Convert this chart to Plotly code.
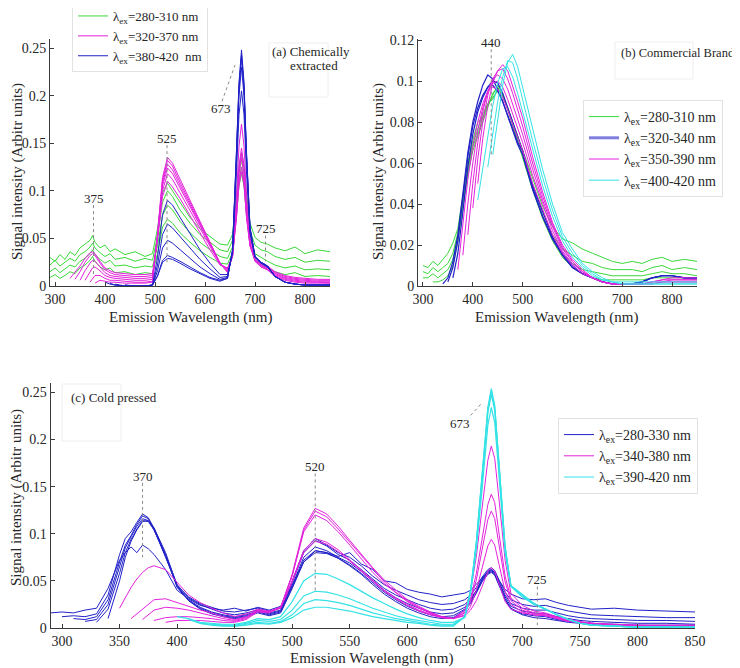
import plotly.graph_objects as go

N = None

# ---------------- Panel (a): chemically extracted ----------------
wl_a = [290, 300, 310, 320, 330, 340, 350, 360, 370, 375,
        380, 390, 400, 410, 420, 440, 460, 480, 495,
        505, 515, 525, 535, 550, 570, 590, 610, 630,
        645, 655, 663, 668, 673, 678, 683, 690, 700,
        712, 725, 740, 760, 780, 800, 825, 850]

a_green = [
    [0.030, 0.026, 0.033, 0.028, 0.036, 0.032, 0.040, 0.044, 0.048, 0.053,
     0.046, 0.040, 0.043, 0.036, 0.039, 0.033, 0.036, 0.031, 0.034,
     0.060, 0.098, 0.108, 0.100, 0.088, 0.072, 0.060, 0.052, 0.044,
     0.043, 0.054, 0.096, 0.126, 0.140, 0.127, 0.097, 0.066, 0.051,
     0.046, 0.044, 0.040, 0.037, 0.041, 0.034, 0.038, 0.036],
    [0.022, 0.027, 0.021, 0.025, 0.029, 0.026, 0.033, 0.036, 0.041, 0.045,
     0.040, 0.035, 0.031, 0.034, 0.028, 0.030, 0.026, 0.029, 0.027,
     0.052, 0.088, 0.100, 0.094, 0.080, 0.066, 0.054, 0.046, 0.038,
     0.036, 0.048, 0.089, 0.119, 0.132, 0.119, 0.089, 0.058, 0.043,
     0.038, 0.036, 0.031, 0.028, 0.030, 0.025, 0.027, 0.026],
    [0.015, 0.019, 0.014, 0.018, 0.022, 0.020, 0.026, 0.029, 0.034, 0.038,
     0.033, 0.028, 0.024, 0.027, 0.021, 0.022, 0.019, 0.021, 0.020,
     0.042, 0.074, 0.085, 0.080, 0.068, 0.056, 0.046, 0.038, 0.031,
     0.029, 0.041, 0.082, 0.112, 0.125, 0.112, 0.082, 0.050, 0.034,
     0.030, 0.026, 0.022, 0.019, 0.021, 0.017, 0.018, 0.017],
    [0.009, 0.012, 0.008, 0.011, 0.015, 0.013, 0.019, 0.022, 0.027, 0.031,
     0.026, 0.020, 0.017, 0.019, 0.014, 0.015, 0.012, 0.014, 0.013,
     0.034, 0.062, 0.070, 0.066, 0.056, 0.046, 0.037, 0.030, 0.024,
     0.023, 0.035, 0.075, 0.105, 0.118, 0.105, 0.075, 0.043, 0.027,
     0.022, 0.019, 0.015, 0.012, 0.014, 0.010, 0.011, 0.010],
]

a_magenta = [
    [N, N, N, N, 0.008, 0.014, 0.021, 0.029, 0.035, 0.036,
     0.034, 0.026, 0.019, 0.016, 0.014, 0.013, 0.012, 0.012, 0.013,
     0.048, 0.094, 0.110, 0.104, 0.092, 0.074, 0.056, 0.038, 0.022,
     0.019, 0.032, 0.072, 0.106, 0.120, 0.106, 0.072, 0.042, 0.028,
     0.024, 0.021, 0.015, 0.011, 0.009, 0.008, 0.007, 0.007],
    [N, N, N, N, N, 0.007, 0.015, 0.025, 0.032, 0.034,
     0.032, 0.024, 0.017, 0.014, 0.012, 0.011, 0.010, 0.010, 0.011,
     0.050, 0.100, 0.118, 0.112, 0.098, 0.079, 0.060, 0.041, 0.023,
     0.018, 0.031, 0.073, 0.109, 0.125, 0.109, 0.073, 0.042, 0.027,
     0.023, 0.020, 0.014, 0.010, 0.008, 0.007, 0.006, 0.006],
    [N, N, N, N, N, N, 0.006, 0.016, 0.024, 0.027,
     0.026, 0.020, 0.014, 0.011, 0.010, 0.009, 0.008, 0.008, 0.009,
     0.052, 0.105, 0.124, 0.118, 0.103, 0.083, 0.063, 0.043, 0.024,
     0.017, 0.031, 0.078, 0.118, 0.135, 0.118, 0.078, 0.044, 0.027,
     0.022, 0.019, 0.013, 0.009, 0.007, 0.006, 0.005, 0.005],
    [N, N, N, N, N, N, N, 0.006, 0.015, 0.019,
     0.020, 0.016, 0.011, 0.009, 0.008, 0.007, 0.006, 0.006, 0.007,
     0.053, 0.108, 0.128, 0.122, 0.106, 0.086, 0.065, 0.044, 0.024,
     0.016, 0.031, 0.080, 0.122, 0.140, 0.122, 0.080, 0.045, 0.026,
     0.021, 0.018, 0.012, 0.008, 0.006, 0.005, 0.004, 0.004],
    [N, N, N, N, N, N, N, N, 0.004, 0.008,
     0.011, 0.011, 0.008, 0.006, 0.006, 0.005, 0.004, 0.004, 0.005,
     0.054, 0.111, 0.132, 0.126, 0.109, 0.088, 0.067, 0.045, 0.024,
     0.015, 0.031, 0.082, 0.126, 0.145, 0.126, 0.082, 0.045, 0.026,
     0.020, 0.017, 0.011, 0.007, 0.005, 0.004, 0.004, 0.003],
    [N, N, N, N, N, N, N, N, N, N,
     0.003, 0.006, 0.005, 0.004, 0.004, 0.003, 0.003, 0.003, 0.004,
     0.055, 0.114, 0.135, 0.129, 0.112, 0.090, 0.068, 0.046, 0.024,
     0.014, 0.033, 0.095, 0.147, 0.170, 0.147, 0.095, 0.050, 0.027,
     0.020, 0.017, 0.010, 0.006, 0.004, 0.003, 0.003, 0.003],
]

a_blue = [
    [N, N, N, N, N, N, N, N, N, N,
     N, N, 0.004, 0.002, 0.001, 0.000, 0.000, 0.000, 0.001,
     0.030, 0.075, 0.090, 0.085, 0.072, 0.055, 0.038, 0.024, 0.012,
     0.012, 0.034, 0.120, 0.180, 0.205, 0.180, 0.120, 0.055, 0.030,
     0.024, 0.020, 0.010, 0.004, 0.002, 0.001, 0.001, 0.001],
    [N, N, N, N, N, N, N, N, N, N,
     N, N, N, 0.003, 0.001, 0.000, 0.000, 0.000, 0.001,
     0.022, 0.054, 0.065, 0.061, 0.052, 0.040, 0.028, 0.018, 0.009,
     0.010, 0.036, 0.132, 0.200, 0.230, 0.200, 0.132, 0.058, 0.030,
     0.024, 0.020, 0.010, 0.004, 0.002, 0.001, 0.001, 0.001],
    [N, N, N, N, N, N, N, N, N, N,
     N, N, N, N, 0.002, 0.000, 0.000, 0.000, 0.001,
     0.016, 0.040, 0.048, 0.045, 0.038, 0.029, 0.020, 0.013, 0.007,
     0.009, 0.037, 0.137, 0.208, 0.240, 0.208, 0.137, 0.060, 0.031,
     0.025, 0.021, 0.010, 0.004, 0.002, 0.001, 0.001, 0.001],
    [N, N, N, N, N, N, N, N, N, N,
     N, N, N, N, N, 0.001, 0.000, 0.000, 0.001,
     0.011, 0.027, 0.032, 0.030, 0.026, 0.020, 0.014, 0.009, 0.006,
     0.008, 0.038, 0.141, 0.214, 0.248, 0.214, 0.141, 0.062, 0.031,
     0.025, 0.021, 0.010, 0.004, 0.002, 0.001, 0.001, 0.001],
    [N, N, N, N, N, N, N, N, N, N,
     N, N, N, N, N, 0.001, 0.000, 0.000, 0.001,
     0.010, 0.025, 0.029, 0.028, 0.024, 0.018, 0.013, 0.008, 0.005,
     0.008, 0.037, 0.138, 0.210, 0.243, 0.210, 0.138, 0.061, 0.031,
     0.025, 0.021, 0.010, 0.004, 0.002, 0.001, 0.001, 0.001],
]

# ---------------- Panel (b): commercial brands ----------------
wl_b = [300, 310, 320, 330, 340, 350, 360, 370, 380, 390,
        400, 410, 420, 430, 440, 450, 460, 470, 480, 490, 500,
        520, 540, 560, 580, 600, 620, 640, 660, 680, 700,
        720, 740, 760, 780, 800, 825, 850]

b_green = [
    [0.010, 0.009, 0.012, 0.010, 0.013, 0.016, 0.021, 0.028, 0.044, 0.060,
     0.071, 0.080, 0.082, 0.089, 0.092, 0.095, 0.092, 0.087, 0.080, 0.073, 0.067,
     0.052, 0.039, 0.029, 0.023, 0.021, 0.018, 0.016, 0.014, 0.012, 0.011,
     0.012, 0.011, 0.013, 0.014, 0.012, 0.013, 0.012],
    [0.007, 0.006, 0.009, 0.007, 0.009, 0.011, 0.016, 0.026, 0.042, 0.058,
     0.069, 0.076, 0.084, 0.089, 0.091, 0.096, 0.093, 0.087, 0.080, 0.072, 0.066,
     0.050, 0.036, 0.025, 0.018, 0.015, 0.012, 0.011, 0.009, 0.008, 0.008,
     0.008, 0.007, 0.009, 0.010, 0.008, 0.009, 0.008],
    [0.004, 0.004, 0.006, 0.004, 0.006, 0.008, 0.013, 0.024, 0.040, 0.056,
     0.068, 0.074, 0.082, 0.088, 0.093, 0.098, 0.094, 0.087, 0.079, 0.071, 0.064,
     0.048, 0.034, 0.023, 0.015, 0.011, 0.008, 0.007, 0.006, 0.005, 0.005,
     0.005, 0.005, 0.006, 0.007, 0.006, 0.006, 0.005],
    [N, N, 0.002, 0.002, 0.003, 0.005, 0.010, 0.022, 0.038, 0.054,
     0.066, 0.073, 0.080, 0.087, 0.094, 0.097, 0.093, 0.086, 0.078, 0.070, 0.063,
     0.047, 0.033, 0.022, 0.014, 0.009, 0.006, 0.004, 0.003, 0.003, 0.003,
     0.003, 0.003, 0.004, 0.004, 0.004, 0.004, 0.003],
]

b_blue = [
    [N, N, N, N, 0.001, 0.004, 0.012, 0.025, 0.045, 0.065,
     0.080, 0.090, 0.098, 0.103, 0.101, 0.096, 0.090, 0.083, 0.076, 0.070, 0.066,
     0.048, 0.034, 0.023, 0.015, 0.009, 0.006, 0.004, 0.002, 0.001, 0.001,
     0.001, 0.002, 0.004, 0.005, 0.005, 0.004, 0.004],
    [N, N, N, N, N, 0.002, 0.009, 0.022, 0.042, 0.063,
     0.078, 0.087, 0.093, 0.097, 0.098, 0.095, 0.090, 0.083, 0.076, 0.069, 0.064,
     0.047, 0.034, 0.023, 0.015, 0.009, 0.006, 0.004, 0.002, 0.001, 0.001,
     0.001, 0.002, 0.004, 0.005, 0.005, 0.004, 0.004],
    [N, N, N, N, N, N, 0.004, 0.016, 0.036, 0.058,
     0.074, 0.085, 0.092, 0.097, 0.100, 0.099, 0.094, 0.087, 0.080, 0.072, 0.066,
     0.049, 0.036, 0.024, 0.016, 0.010, 0.006, 0.004, 0.002, 0.001, 0.001,
     0.001, 0.002, 0.004, 0.005, 0.005, 0.004, 0.004],
]

b_magenta = [
    [N, N, N, N, N, N, N, 0.008, 0.030, 0.052,
     0.068, 0.080, 0.089, 0.095, 0.097, 0.096, 0.092, 0.086, 0.079, 0.072, 0.066,
     0.050, 0.037, 0.025, 0.016, 0.010, 0.006, 0.004, 0.002, 0.001, 0.001,
     0.001, 0.001, 0.002, 0.003, 0.004, 0.004, 0.004],
    [N, N, N, N, N, N, N, N, 0.015, 0.040,
     0.060, 0.076, 0.087, 0.095, 0.099, 0.100, 0.097, 0.091, 0.084, 0.077, 0.070,
     0.054, 0.040, 0.027, 0.017, 0.011, 0.007, 0.004, 0.002, 0.001, 0.001,
     0.001, 0.001, 0.002, 0.003, 0.003, 0.003, 0.003],
    [N, N, N, N, N, N, N, N, N, 0.025,
     0.050, 0.070, 0.085, 0.095, 0.101, 0.103, 0.101, 0.096, 0.089, 0.081, 0.074,
     0.057, 0.042, 0.029, 0.018, 0.012, 0.007, 0.004, 0.002, 0.001, 0.001,
     0.001, 0.001, 0.002, 0.002, 0.003, 0.003, 0.003],
    [N, N, N, N, N, N, N, N, N, N,
     0.038, 0.062, 0.080, 0.093, 0.101, 0.105, 0.106, 0.101, 0.094, 0.086, 0.078,
     0.060, 0.044, 0.030, 0.019, 0.012, 0.007, 0.004, 0.002, 0.001, 0.001,
     0.001, 0.001, 0.001, 0.002, 0.002, 0.002, 0.002],
    [N, N, N, N, N, N, N, N, N, N,
     N, 0.050, 0.072, 0.088, 0.099, 0.105, 0.108, 0.105, 0.098, 0.090, 0.082,
     0.063, 0.046, 0.031, 0.020, 0.013, 0.008, 0.004, 0.002, 0.001, 0.001,
     0.001, 0.001, 0.001, 0.002, 0.002, 0.002, 0.002],
]

b_cyan = [
    [N, N, N, N, N, N, N, N, N, N,
     N, 0.042, 0.058, 0.074, 0.088, 0.099, 0.106, 0.107, 0.102, 0.094, 0.085,
     0.066, 0.049, 0.034, 0.022, 0.014, 0.009, 0.005, 0.003, 0.002, 0.001,
     0.001, 0.001, 0.001, 0.001, 0.001, 0.001, 0.001],
    [N, N, N, N, N, N, N, N, N, N,
     N, N, N, 0.058, 0.075, 0.090, 0.102, 0.110, 0.109, 0.101, 0.091,
     0.071, 0.053, 0.037, 0.024, 0.016, 0.010, 0.006, 0.003, 0.002, 0.001,
     0.001, 0.001, 0.001, 0.001, 0.001, 0.001, 0.001],
    [N, N, N, N, N, N, N, N, N, N,
     N, N, N, N, 0.064, 0.082, 0.098, 0.109, 0.113, 0.107, 0.097,
     0.076, 0.057, 0.040, 0.026, 0.018, 0.011, 0.007, 0.004, 0.002, 0.002,
     0.002, 0.002, 0.002, 0.002, 0.002, 0.002, 0.002],
]

# ---------------- Panel (c): cold pressed ----------------
wl_c = [290, 300, 310, 320, 330, 340, 350,
        355, 360, 365, 370, 375, 380, 390, 400,
        410, 420, 430, 440, 450, 460, 470, 480, 490, 500,
        510, 520, 530, 540, 550, 560, 570, 580, 590, 600,
        610, 620, 630, 640, 650,
        655, 660, 665, 670, 673, 676, 680, 685, 690,
        700, 710, 720, 730, 740, 750, 760, 780, 800, 825, 850]

c_blue = [
    [0.016, 0.017, 0.016, 0.019, 0.021, 0.042, 0.072,
     0.080, 0.086, 0.080, 0.088, 0.084, 0.078, 0.062, 0.040,
     0.031, 0.024, 0.021, 0.019, 0.021, 0.018, 0.022, 0.019, 0.023, 0.045,
     0.070, 0.082, 0.080, 0.076, 0.080, 0.068, 0.062, 0.050, 0.048, 0.041,
     0.038, 0.036, 0.033, 0.035, 0.037,
     0.040, 0.046, 0.053, 0.060, 0.062, 0.059, 0.050, 0.041, 0.036,
     0.031, 0.030, 0.031, 0.027, 0.024, 0.022, 0.020, 0.021, 0.019, 0.018, 0.017],
    [N, 0.012, 0.013, 0.012, 0.015, 0.035, 0.078,
     0.095, 0.102, 0.112, 0.121, 0.117, 0.105, 0.075, 0.045,
     0.033, 0.026, 0.022, 0.018, 0.017, 0.019, 0.021, 0.018, 0.021, 0.050,
     0.082, 0.095, 0.088, 0.080, 0.075, 0.066, 0.055, 0.046, 0.040, 0.035,
     0.030, 0.027, 0.025, 0.026, 0.030,
     0.035, 0.043, 0.054, 0.062, 0.064, 0.061, 0.050, 0.038, 0.030,
     0.025, 0.023, 0.024, 0.021, 0.018, 0.016, 0.014, 0.013, 0.012, 0.011, 0.011],
    [N, N, 0.010, 0.009, 0.012, 0.030, 0.070,
     0.088, 0.098, 0.110, 0.119, 0.116, 0.106, 0.078, 0.046,
     0.032, 0.025, 0.020, 0.016, 0.014, 0.016, 0.019, 0.016, 0.019, 0.048,
     0.080, 0.093, 0.087, 0.078, 0.072, 0.062, 0.052, 0.042, 0.035, 0.030,
     0.025, 0.021, 0.019, 0.020, 0.025,
     0.031, 0.040, 0.052, 0.060, 0.062, 0.059, 0.048, 0.035, 0.026,
     0.021, 0.019, 0.019, 0.016, 0.013, 0.011, 0.010, 0.009, 0.008, 0.008, 0.007],
    [N, N, N, 0.007, 0.009, 0.025, 0.065,
     0.085, 0.097, 0.108, 0.116, 0.114, 0.104, 0.076, 0.044,
     0.030, 0.022, 0.017, 0.014, 0.012, 0.014, 0.018, 0.015, 0.018, 0.045,
     0.075, 0.086, 0.082, 0.075, 0.069, 0.060, 0.050, 0.040, 0.032, 0.026,
     0.021, 0.017, 0.015, 0.016, 0.022,
     0.029, 0.039, 0.051, 0.059, 0.061, 0.058, 0.046, 0.033, 0.023,
     0.018, 0.016, 0.015, 0.012, 0.010, 0.008, 0.007, 0.006, 0.005, 0.005, 0.004],
    [N, N, N, N, 0.006, 0.020, 0.058,
     0.080, 0.094, 0.105, 0.114, 0.113, 0.104, 0.077, 0.043,
     0.029, 0.021, 0.016, 0.013, 0.011, 0.013, 0.017, 0.014, 0.017, 0.043,
     0.072, 0.082, 0.080, 0.074, 0.067, 0.058, 0.048, 0.038, 0.030, 0.023,
     0.018, 0.014, 0.012, 0.013, 0.020,
     0.027, 0.038, 0.050, 0.058, 0.060, 0.057, 0.045, 0.031, 0.021,
     0.015, 0.013, 0.012, 0.009, 0.007, 0.006, 0.005, 0.004, 0.003, 0.003, 0.003],
    [N, N, N, N, N, 0.010, 0.050,
     0.075, 0.092, 0.104, 0.113, 0.114, 0.106, 0.080, 0.045,
     0.029, 0.020, 0.015, 0.012, 0.010, 0.012, 0.016, 0.013, 0.016, 0.042,
     0.070, 0.080, 0.079, 0.074, 0.066, 0.057, 0.046, 0.036, 0.028, 0.021,
     0.016, 0.012, 0.010, 0.011, 0.019,
     0.026, 0.037, 0.049, 0.057, 0.059, 0.056, 0.044, 0.030, 0.020,
     0.014, 0.011, 0.010, 0.008, 0.006, 0.005, 0.004, 0.003, 0.002, 0.002, 0.002],
]

c_magenta = [
    [N, N, N, N, N, N, 0.021,
     0.032, 0.043, 0.052, 0.059, 0.064, 0.066, 0.062, 0.048,
     0.035, 0.027, 0.021, 0.016, 0.012, 0.015, 0.020, 0.018, 0.022, 0.050,
     0.082, 0.095, 0.091, 0.083, 0.072, 0.061, 0.050, 0.040, 0.032, 0.025,
     0.019, 0.015, 0.011, 0.010, 0.013,
     0.019, 0.029, 0.044, 0.060, 0.064, 0.060, 0.046, 0.028, 0.020,
     0.016, 0.014, 0.013, 0.010, 0.007, 0.006, 0.005, 0.004, 0.003, 0.003, 0.003],
    [N, N, N, N, N, N, N,
     N, 0.010, 0.015, 0.021, 0.026, 0.030, 0.031, 0.027,
     0.023, 0.019, 0.016, 0.012, 0.009, 0.012, 0.019, 0.017, 0.021, 0.049,
     0.080, 0.092, 0.089, 0.081, 0.071, 0.060, 0.049, 0.039, 0.031, 0.024,
     0.018, 0.014, 0.011, 0.010, 0.014,
     0.023, 0.040, 0.063, 0.087, 0.094, 0.088, 0.066, 0.039, 0.025,
     0.017, 0.014, 0.013, 0.010, 0.007, 0.006, 0.005, 0.003, 0.003, 0.002, 0.002],
    [N, N, N, N, N, N, N,
     N, N, N, 0.009, 0.014, 0.019, 0.022, 0.021,
     0.019, 0.016, 0.013, 0.010, 0.008, 0.011, 0.019, 0.017, 0.022, 0.055,
     0.102, 0.120, 0.114, 0.102, 0.088, 0.073, 0.059, 0.047, 0.037, 0.028,
     0.021, 0.016, 0.012, 0.010, 0.016,
     0.028, 0.051, 0.082, 0.115, 0.124, 0.116, 0.086, 0.049, 0.029,
     0.019, 0.015, 0.014, 0.011, 0.008, 0.006, 0.005, 0.003, 0.002, 0.002, 0.002],
    [N, N, N, N, N, N, N,
     N, N, N, N, N, 0.008, 0.011, 0.012,
     0.012, 0.011, 0.010, 0.008, 0.007, 0.010, 0.018, 0.017, 0.022, 0.056,
     0.104, 0.124, 0.118, 0.105, 0.091, 0.076, 0.062, 0.049, 0.038, 0.029,
     0.022, 0.016, 0.012, 0.010, 0.017,
     0.031, 0.058, 0.093, 0.131, 0.142, 0.133, 0.098, 0.055, 0.032,
     0.021, 0.016, 0.015, 0.011, 0.008, 0.006, 0.005, 0.003, 0.002, 0.002, 0.002],
    [N, N, N, N, N, N, N,
     N, N, N, N, N, N, 0.006, 0.008,
     0.008, 0.008, 0.007, 0.006, 0.006, 0.009, 0.017, 0.016, 0.022, 0.057,
     0.106, 0.127, 0.121, 0.108, 0.093, 0.078, 0.064, 0.051, 0.040, 0.030,
     0.023, 0.017, 0.012, 0.010, 0.019,
     0.039, 0.076, 0.125, 0.178, 0.193, 0.180, 0.133, 0.072, 0.037,
     0.024, 0.018, 0.016, 0.012, 0.009, 0.007, 0.005, 0.003, 0.002, 0.002, 0.002],
]

c_cyan = [
    [N, N, N, N, N, N, N,
     N, N, N, N, N, N, N, 0.012,
     0.010, 0.006, 0.005, 0.004, 0.004, 0.006, 0.010, 0.009, 0.012, 0.028,
     0.050, 0.058, 0.057, 0.052, 0.046, 0.039, 0.032, 0.026, 0.020, 0.015,
     0.011, 0.008, 0.006, 0.006, 0.011,
     0.037, 0.084, 0.147, 0.215, 0.234, 0.218, 0.157, 0.080, 0.044,
     0.033, 0.025, 0.020, 0.014, 0.009, 0.005, 0.003, 0.002, 0.001, 0.001, 0.001],
    [N, N, N, N, N, N, N,
     N, N, N, N, N, N, N, N,
     0.009, 0.005, 0.004, 0.003, 0.003, 0.005, 0.008, 0.007, 0.009, 0.019,
     0.034, 0.039, 0.038, 0.035, 0.031, 0.026, 0.021, 0.017, 0.013, 0.010,
     0.008, 0.006, 0.004, 0.004, 0.012,
     0.039, 0.089, 0.156, 0.228, 0.248, 0.231, 0.166, 0.084, 0.045,
     0.034, 0.026, 0.020, 0.014, 0.009, 0.005, 0.003, 0.002, 0.001, 0.001, 0.001],
    [N, N, N, N, N, N, N,
     N, N, N, N, N, N, N, N,
     N, 0.005, 0.003, 0.003, 0.002, 0.004, 0.006, 0.005, 0.007, 0.014,
     0.026, 0.030, 0.029, 0.027, 0.024, 0.020, 0.016, 0.013, 0.010, 0.008,
     0.006, 0.004, 0.003, 0.003, 0.012,
     0.040, 0.091, 0.159, 0.232, 0.252, 0.234, 0.169, 0.086, 0.045,
     0.035, 0.026, 0.020, 0.014, 0.009, 0.005, 0.003, 0.002, 0.001, 0.001, 0.001],
    [N, N, N, N, N, N, N,
     N, N, N, N, N, N, N, N,
     N, N, 0.003, 0.002, 0.002, 0.003, 0.005, 0.004, 0.006, 0.011,
     0.019, 0.022, 0.022, 0.020, 0.018, 0.015, 0.012, 0.010, 0.008, 0.006,
     0.005, 0.003, 0.002, 0.002, 0.012,
     0.040, 0.091, 0.160, 0.234, 0.254, 0.236, 0.170, 0.086, 0.045,
     0.035, 0.026, 0.020, 0.014, 0.009, 0.005, 0.003, 0.002, 0.001, 0.001, 0.001],
]

# ---------------- ticks, legends, peak labels ----------------
x_ticks_ab = [300, 400, 500, 600, 700, 800]
x_ticks_c = [300, 350, 400, 450, 500, 550, 600, 650, 700, 750, 800, 850]
y_ticks_ac = [0, 0.05, 0.1, 0.15, 0.2, 0.25]
y_labels_ac = ["0", "0.05", "0.1", "0.15", "0.2", "0.25"]
y_ticks_b = [0, 0.02, 0.04, 0.06, 0.08, 0.1, 0.12]
y_labels_b = ["0", "0.02", "0.04", "0.06", "0.08", "0.1", "0.12"]

legend_a = ["λ<sub>ex</sub>=280-310 nm", "λ<sub>ex</sub>=320-370 nm", "λ<sub>ex</sub>=380-420  nm"]
legend_b = ["λ<sub>ex</sub>=280-310 nm", "λ<sub>ex</sub>=320-340 nm", "λ<sub>ex</sub>=350-390 nm", "λ<sub>ex</sub>=400-420 nm"]
legend_c = ["λ<sub>ex</sub>=280-330 nm", "λ<sub>ex</sub>=340-380 nm", "λ<sub>ex</sub>=390-420 nm"]

# vertical dotted peak markers: label, x, label y, line top, line bottom
peaks_a = [("375", 377, 0.092, 0.085, 0.010), ("525", 524, 0.155, 0.148, 0.025),
           ("725", 721, 0.060, 0.053, 0.026)]
peaks_b = [("440", 437, 0.1188, 0.1155, 0.064)]
peaks_c = [("370", 370, 0.161, 0.154, 0.075), ("520", 520, 0.1716, 0.164, 0.037),
           ("725", 713, 0.051, 0.044, 0.003)]
# slanted marker for 673: label, label x, label y, line x0, y0, x1, y1
slant_a = ("673", 631, 0.186, 634, 0.194, 660, 0.232)
slant_c = ("673", 646, 0.2175, 655, 0.2256, 665.5, 0.2397)

FONT = "Liberation Serif, Times New Roman, Times, DejaVu Serif, serif"
GREEN = "#3ad83a"
MAGENTA = "#e322dc"
BLUE = "#2121c8"
CYAN = "#34e2e6"
TXT = "#262626"
AX = "#3a3a3a"

fig = go.Figure()


def add_curves(xs, curves, color, xa, ya, width=1.0):
    for c in curves:
        assert len(c) == len(xs), (len(c), len(xs))
        px = [x for x, v in zip(xs, c) if v is not None]
        py = [v for v in c if v is not None]
        fig.add_trace(go.Scatter(x=px, y=py, mode="lines",
                                 line=dict(color=color, width=width),
                                 xaxis=xa, yaxis=ya, showlegend=False,
                                 hoverinfo="skip"))


def add_legend_item(name, color, legend, xa, ya, width=1.0):
    fig.add_trace(go.Scatter(x=[None], y=[None], mode="lines",
                             line=dict(color=color, width=width), name=name,
                             legend=legend, xaxis=xa, yaxis=ya, showlegend=True))


# panel (a)
add_curves(wl_a, a_green, GREEN, "x", "y")
add_curves(wl_a, a_magenta, MAGENTA, "x", "y")
add_curves(wl_a, a_blue, BLUE, "x", "y")
# panel (b)
add_curves(wl_b, b_green, GREEN, "x2", "y2")
add_curves(wl_b, b_blue, BLUE, "x2", "y2", 1.2)
add_curves(wl_b, b_magenta, MAGENTA, "x2", "y2")
add_curves(wl_b, b_cyan, CYAN, "x2", "y2")
# panel (c)
add_curves(wl_c, c_blue, BLUE, "x3", "y3")
add_curves(wl_c, c_magenta, MAGENTA, "x3", "y3")
add_curves(wl_c, c_cyan, CYAN, "x3", "y3", 1.2)

for name, col in zip(legend_a, [GREEN, MAGENTA, BLUE]):
    add_legend_item(name, col, "legend", "x", "y")
for name, col, w in zip(legend_b, [GREEN, "#7f7fe0", MAGENTA, CYAN], [1, 3, 1, 1]):
    add_legend_item(name, col, "legend2", "x2", "y2", w)
for name, col in zip(legend_c, [BLUE, MAGENTA, CYAN]):
    add_legend_item(name, col, "legend3", "x3", "y3")

W, H = 740, 668
OFF = 8  # the page places the figure 8 px in from the top-left corner


def px_x(p):
    return (p - OFF) / W


def px_y(p):
    return 1 - (p - OFF) / H


axis_style = dict(showline=True, linecolor=AX, linewidth=1, ticks="inside",
                  ticklen=4, tickcolor=AX, showgrid=False, zeroline=False,
                  mirror=False, automargin=False,
                  tickfont=dict(family=FONT, size=14, color=TXT))


def legend_style(size):
    return dict(xanchor="left", yanchor="top", bgcolor="white",
                bordercolor="#e2e2e2", borderwidth=1,
                font=dict(family=FONT, size=size, color=TXT),
                tracegroupgap=0, itemwidth=30)


shapes = []
annotations = []


def add_peaks(peaks, xref, yref):
    for lab, x, ly, y0, y1 in peaks:
        shapes.append(dict(type="line", xref=xref, yref=yref, x0=x, x1=x, y0=y0, y1=y1,
                           line=dict(color="#8a8a8a", width=1, dash="dot")))
        annotations.append(dict(text=lab, xref=xref, yref=yref, x=x, y=ly,
                                showarrow=False, font=dict(family=FONT, size=13, color=TXT)))


def add_slant(s, xref, yref):
    lab, lx, ly, x0, y0, x1, y1 = s
    shapes.append(dict(type="line", xref=xref, yref=yref, x0=x0, x1=x1, y0=y0, y1=y1,
                       line=dict(color="#8a8a8a", width=1, dash="dot")))
    annotations.append(dict(text=lab, xref=xref, yref=yref, x=lx, y=ly,
                            showarrow=False, font=dict(family=FONT, size=13, color=TXT)))


add_peaks(peaks_a, "x", "y")
add_slant(slant_a, "x", "y")
add_peaks(peaks_b, "x2", "y2")
add_peaks(peaks_c, "x3", "y3")
add_slant(slant_c, "x3", "y3")

# faint text boxes
for x0, y0, x1, y1 in [(269, 43, 328, 97), (615, 42, 693, 79), (62, 384, 121, 441)]:
    shapes.append(dict(type="rect", xref="paper", yref="paper",
                       x0=px_x(x0), x1=px_x(x1), y0=px_y(y1), y1=px_y(y0),
                       line=dict(color="#eeeeee", width=1)))

box_texts = [("(a) Chemically", 311, 52, "center", 13), ("extracted", 314, 66, "center", 13),
             ("(b) Commercial Brands", 619, 53, "left", 12.5),
             ("(c) Cold pressed", 69, 397, "left", 13)]
for t, x, y, anc, fs in box_texts:
    annotations.append(dict(text=t, xref="paper", yref="paper", x=px_x(x), y=px_y(y),
                            xanchor=anc, yanchor="middle", showarrow=False,
                            font=dict(family=FONT, size=fs, color=TXT)))

# axis titles
ytitle = "Signal intensity (Arbitr units)"
xtitle = "Emission Wavelength (nm)"
for x, y in [(17, 172), (378, 172), (17, 498)]:
    annotations.append(dict(text=ytitle, xref="paper", yref="paper", x=px_x(x), y=px_y(y),
                            textangle=-90, showarrow=False, xanchor="center", yanchor="middle",
                            font=dict(family=FONT, size=15, color=TXT)))
for x, y in [(191, 318), (557, 318), (372, 658)]:
    annotations.append(dict(text=xtitle, xref="paper", yref="paper", x=px_x(x), y=px_y(y),
                            showarrow=False, xanchor="center", yanchor="middle",
                            font=dict(family=FONT, size=15, color=TXT)))

fig.update_layout(
    width=W, height=H, margin=dict(l=0, r=0, t=0, b=0, pad=0, autoexpand=False),
    paper_bgcolor="white", plot_bgcolor="white",
    font=dict(family=FONT, size=14, color=TXT),
    xaxis=dict(domain=[px_x(50), px_x(330)], range=[290, 850], anchor="y",
               tickvals=x_ticks_ab, **axis_style),
    yaxis=dict(domain=[px_y(286), px_y(38.5)], range=[0, 0.26], anchor="x",
               tickvals=y_ticks_ac, ticktext=y_labels_ac, **axis_style),
    xaxis2=dict(domain=[px_x(418), px_x(697)], range=[290, 850], anchor="y2",
                tickvals=x_ticks_ab, **axis_style),
    yaxis2=dict(domain=[px_y(286), px_y(39)], range=[0, 0.1205], anchor="x2",
                tickvals=y_ticks_b, ticktext=y_labels_b, **axis_style),
    xaxis3=dict(domain=[px_x(50.5), px_x(695)], range=[290, 850], anchor="y3",
                tickvals=x_ticks_c, **axis_style),
    yaxis3=dict(domain=[px_y(628), px_y(383)], range=[0, 0.26], anchor="x3",
                tickvals=y_ticks_ac, ticktext=y_labels_ac, **axis_style),
    legend=dict(x=px_x(72), y=px_y(0), **legend_style(13)),
    legend2=dict(x=px_x(583), y=px_y(100), **legend_style(14)),
    legend3=dict(x=px_x(558), y=px_y(418), **legend_style(14)),
    shapes=shapes, annotations=annotations,
)

fig.write_html("out.html")
